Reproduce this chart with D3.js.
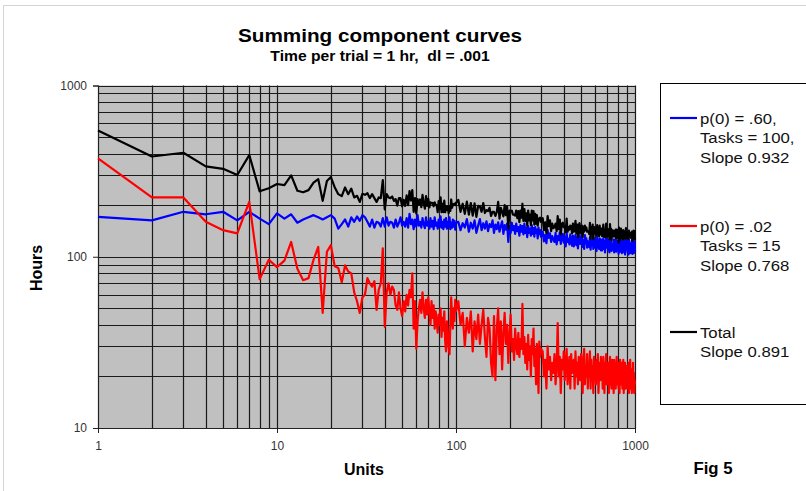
<!DOCTYPE html>
<html><head><meta charset="utf-8">
<script src="https://cdn.jsdelivr.net/npm/d3@7"></script>
<style>body{margin:0;background:#fff}svg{display:block;font-family:"Liberation Sans",Arial,sans-serif}text{white-space:pre}</style>
</head><body><svg id="c" width="806" height="491"></svg>
<script>
// ---- data ----
const title = "Summing component curves";
const subtitle = "Time per trial = 1 hr,  dl = .001";
const xTickValues = [1, 10, 100, 1000];
const yTickValues = [10, 100, 1000];
const seriesNames = ["p(0) = .60,|Tasks = 100,|Slope 0.932", "p(0) = .02|Tasks = 15|Slope 0.768", "Total|Slope 0.891"];
// x = 1..100 step 1
const blueLow = [171,163,183,177,183,163,183,167,155,179,167,177,158,165,170,175,170,165,170,175,
  167,146,155,165,150,170,160,172,162,175,170,160,150,165,148,160,158,150,168,150,
  170,152,160,158,148,165,150,158,170,152,160,150,168,148,178,155,165,145,165,150,
  175,152,160,148,168,155,147,170,152,160,146,168,150,162,145,170,152,158,146,165,
  150,172,148,160,145,165,150,168,146,160,150,170,145,158,148,165,150,162,144,158];
// x = 103..298 step 3
const blueMid = [160,143,157,148,166,140,158,146,163,138,152,166,143,157,146,161,141,155,149,163,
  138,154,145,159,140,151,161,136,153,144,156,122,151,138,158,143,151,136,156,141,
  149,133,153,140,151,135,156,138,148,130,151,138,146,133,153,136,147,131,149,138,
  144,128,148,136,143,131];
// x = 305..1000 step 5
const blueHigh = [140,123,134,120,143,129,137,122,132,126, 122,138,118,132,125,139,119,130,136,121,
  131,115,138,122,127,118,135,124,116,133, 115,127,134,117,130,112,126,135,119,123,
  131,114,125,111,134,120,128,113,123,117, 114,130,110,124,117,131,111,122,128,113,
  124,108,131,115,120,111,128,117,109,126, 109,121,128,111,124,106,120,129,113,117,
  126,109,120,106,129,115,123,108,118,112, 110,126,106,120,113,127,107,118,124,109,
  120,104,127,111,116,107,124,113,105,122, 106,118,125,108,121,103,117,126,110,114,
  123,106,117,103,126,112,120,105,115,109, 108,124,104,118,111,125,105,116,122,107];
const redLow = [375,222,222,160,143,137,209,74,96,87,95,122,85,73,75,96,114,47,107,117,
  88,86,71,89,82,80,62,55,47,58,60,75,70,67,72,49,64,70,112,39,
  62,70,60,67,64,52,49,62,50,45,55,48,60,52,64,58,80,38,55,29,
  42,50,56,47,62,50,44,56,46,58,48,40,55,44,52,38,48,42,36,46,
  40,50,34,44,37,48,32,28,42,36,30,27,40,58,45,38,50,42,56,48];
const redMid = [55,40,47,30,44,36,48,28,42,33,46,31,40,49,34,26,44,38,24,20,
  45,19,38,50,27,42,22,36,47,31,40,24,35,46,28,33,25,38,30,27,
  36,26,33,29,53,27,34,24,31,22,35,25,30,20,33,27,38,23,29,18,
  31,24,16,32,26,29];
const redHigh = [28,20,25,17,30,22,26,19,24,21, 27,18,23,41,20,26,16,25,22,28,
  19,24,29,18,22,26,17,27,21,23, 25,17,28,20,24,18,26,22,19,27,
  21,16,25,29,18,23,20,27,17,24, 22,28,17,25,19,23,16,26,21,24,
  18,25,22,27,16,21,24,19,26,20, 23,17,26,20,16,24,21,27,18,22,
  19,24,16,21,26,18,23,17,25,20, 22,16,25,19,23,17,21,26,18,20,
  24,17,21,16,25,19,22,18,24,17, 20,25,16,22,18,24,17,21,19,23,
  17,22,19,24,16,21,18,25,17,20, 22,16,20,18,24,17,21,16,19,18];

// ---- build points ----
function seg(vals, start, step){ return vals.map((v,i)=>({x:start+i*step, y:v})); }
const blue = [].concat(seg(blueLow,1,1), seg(blueMid,103,3), seg(blueHigh,305,5));
const red  = [].concat(seg(redLow,1,1),  seg(redMid,103,3),  seg(redHigh,305,5));
const total = blue.map((d,i)=>({x:d.x, y:d.y + red[i].y}));

const svg = d3.select("#c");
const L=98, R=635, T=85.5, B=428;
const x = d3.scaleLog().domain([1,1000]).range([L,R]);
const y = d3.scaleLog().domain([10,1000]).range([B,T]);
const SX = 1.1; // horizontal stretch of the reference's text

function txt(g, xx, yy, s, opts){
  return g.append("text").attr("transform", `translate(${xx},${yy}) scale(${opts.sx||SX},1)`)
    .attr("text-anchor", opts.anchor||"start").attr("font-size", opts.size||12)
    .attr("font-weight", opts.bold?"bold":"normal").attr("fill", opts.fill||"#000")
    .attr("xml:space","preserve").text(s);
}

// outer frame
svg.append("rect").attr("x",3.5).attr("y",5.5).attr("width",830).attr("height",520)
  .attr("fill","none").attr("stroke","#d4d4d4");

// plot background
svg.append("rect").attr("x",L).attr("y",T).attr("width",R-L).attr("height",B-T).attr("fill","#c0c0c0");

// grid
const gx=[], gy=[];
[1,10,100].forEach(d=>{ for(let k=1;k<=9;k++){ gx.push(k*d); } }); gx.push(1000);
[10,100].forEach(d=>{ for(let k=1;k<=9;k++){ gy.push(k*d); } }); gy.push(1000);
const grid = svg.append("g").attr("stroke","#1a1a1a").attr("stroke-width",1.2);
gx.forEach(v=>{ const px=Math.round(x(v))+0.5; grid.append("line").attr("x1",px).attr("x2",px).attr("y1",T).attr("y2",B); });
gy.forEach(v=>{ const py=Math.round(y(v))+0.5; grid.append("line").attr("x1",L).attr("x2",R).attr("y1",py).attr("y2",py); });

// axes
const xAxis = d3.axisBottom(x).tickValues(xTickValues).tickFormat(d3.format("d")).tickSize(5).tickPadding(6);
const yAxis = d3.axisLeft(y).tickValues(yTickValues).tickFormat(d3.format("d")).tickSize(5).tickPadding(6);
const gxA = svg.append("g").attr("transform",`translate(0,${B})`).call(xAxis);
const gyA = svg.append("g").attr("transform",`translate(${L},0)`).call(yAxis);
[gxA,gyA].forEach(g=>{
  g.select(".domain").attr("stroke","#222");
  g.selectAll(".tick line").attr("stroke","#222");
  g.selectAll(".tick text").attr("font-size",12).attr("fill","#333").attr("font-family","Liberation Sans, Arial, sans-serif");
});
gxA.selectAll(".tick text").attr("dy","0.9em");

// series
const line = d3.line().x(d=>x(d.x)).y(d=>y(d.y));
const plot = svg.append("g");
plot.append("path").datum(blue).attr("d",line).attr("fill","none").attr("stroke","#0000ff").attr("stroke-width",2.2).attr("stroke-linejoin","round");
plot.append("path").datum(red).attr("d",line).attr("fill","none").attr("stroke","#ff0000").attr("stroke-width",2.2).attr("stroke-linejoin","round");
plot.append("path").datum(total).attr("d",line).attr("fill","none").attr("stroke","#000000").attr("stroke-width",2.2).attr("stroke-linejoin","round");

// titles
txt(svg, 380, 42, title, {anchor:"middle", size:18.5, bold:true, sx:1.12});
txt(svg, 380, 61, subtitle, {anchor:"middle", size:14, bold:true, sx:1.12});
txt(svg, 364, 475, "Units", {anchor:"middle", size:16, bold:true, sx:1.0});
txt(svg, 713, 474, "Fig 5", {anchor:"middle", size:16, bold:true, sx:1.05});
svg.append("text").attr("transform","translate(42,268) rotate(-90)").attr("text-anchor","middle")
  .attr("font-size",16).attr("font-weight","bold").text("Hours");

// legend
const lg = svg.append("g");
lg.append("rect").attr("x",660.5).attr("y",83.5).attr("width",200).attr("height",321).attr("fill","#fff").attr("stroke","#000");
const colors = ["#0000ff","#ff0000","#000000"];
const firstY = [118, 226, 332];
seriesNames.forEach((s,i)=>{
  lg.append("line").attr("x1",670).attr("x2",697).attr("y1",firstY[i]).attr("y2",firstY[i]).attr("stroke",colors[i]).attr("stroke-width",2.2);
  s.split("|").forEach((ln,j)=>{
    txt(lg, 700, firstY[i] + 5.5 + j*19.8, ln, {size:15.5, sx:1.08, fill:"#111"});
  });
});
</script></body></html>
